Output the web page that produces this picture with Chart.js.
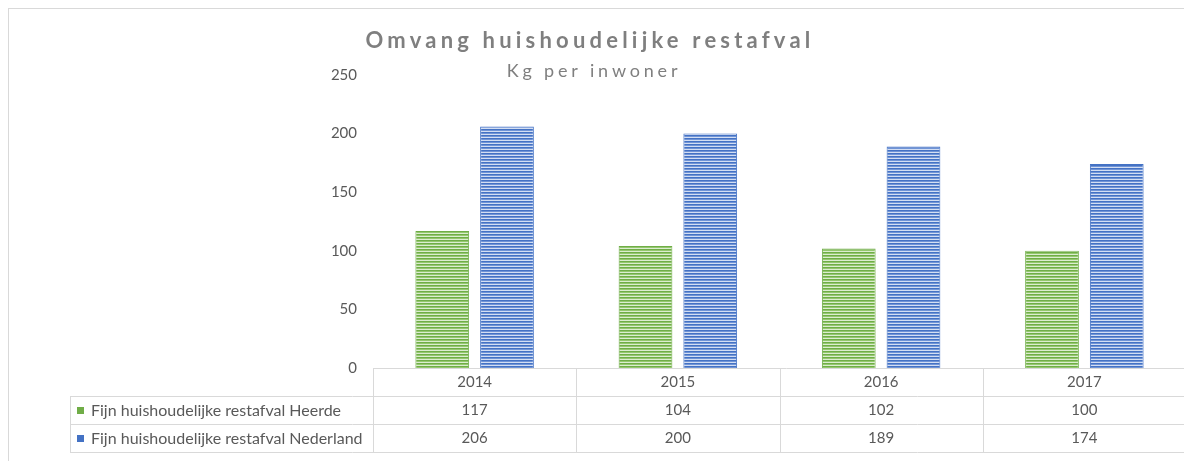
<!DOCTYPE html>
<html>
<head>
<meta charset="utf-8">
<script src="https://cdn.jsdelivr.net/npm/chart.js@4.4.0/dist/chart.umd.min.js"></script>
<style>
  html, body { margin: 0; padding: 0; background: #fff; overflow: hidden; }
  #frame { position: absolute; left: 8px; top: 8px; width: 1300px; height: 520px; border: 1px solid #d9d9d9; }
  #chart { position: absolute; left: 0; top: 0; }
</style>
</head>
<body>
<div id="frame"></div>
<canvas id="chart" width="1200" height="461"></canvas>
<script>
const years = ['2014', '2015', '2016', '2017']
const heerde = [117, 104, 102, 100]
const nederland = [206, 200, 189, 174]
const seriesNames = ['Fijn huishoudelijke restafval Heerde', 'Fijn huishoudelijke restafval Nederland']
const yTicks = [0, 50, 100, 150, 200, 250]

const FONT = 'Lato'
const TEXT = '#595959'
const LINE = '#d9d9d9'

// striped fill like the excel pattern
function stripes(dark, mid, light) {
  const c = document.createElement('canvas')
  c.width = 4
  c.height = 3
  const g = c.getContext('2d')
  g.fillStyle = dark; g.fillRect(0, 0, 4, 1)
  g.fillStyle = mid; g.fillRect(0, 1, 4, 1)
  g.fillStyle = light; g.fillRect(0, 2, 4, 1)
  return g.createPattern(c, 'repeat')
}

const greenFill = stripes('#70ad47', '#94c86e', '#dcedd0')
const blueFill = stripes('#4472c4', '#7094d6', '#d3def3')

// title + data table drawn under the plot
const tablePlugin = {
  id: 'tablePlugin',
  afterDraw(chart) {
    const ctx = chart.ctx
    const area = chart.chartArea
    const x = chart.scales.x
    const n = years.length
    const w = (area.right - area.left) / n
    const rowH = 28
    const y0 = area.bottom
    const tableLeft = 70
    const rows = [heerde, nederland]
    const colors = ['#70ad47', '#4472c4']

    ctx.save()
    ctx.strokeStyle = LINE
    ctx.lineWidth = 1

    // axis line + header row
    ctx.beginPath()
    ctx.moveTo(area.left, y0 + 0.5)
    ctx.lineTo(chart.width, y0 + 0.5)
    for (let r = 1; r <= 3; r++) {
      ctx.moveTo(tableLeft, y0 + r * rowH + 0.5)
      ctx.lineTo(chart.width, y0 + r * rowH + 0.5)
    }
    for (let i = 0; i <= n; i++) {
      const xx = Math.round(area.left + i * w) + 0.5
      ctx.moveTo(xx, y0)
      ctx.lineTo(xx, y0 + 3 * rowH)
    }
    ctx.moveTo(tableLeft + 0.5, y0 + rowH)
    ctx.lineTo(tableLeft + 0.5, y0 + 3 * rowH)
    ctx.stroke()

    ctx.fillStyle = TEXT
    ctx.font = '15px ' + FONT
    ctx.textAlign = 'center'
    ctx.textBaseline = 'middle'
    years.forEach((yr, i) => {
      const cx = x.getPixelForValue(i)
      ctx.fillText(yr, cx, y0 + rowH / 2)
      rows.forEach((vals, r) => {
        ctx.fillText(String(vals[i]), cx, y0 + (r + 1.5) * rowH)
      })
    })

    ctx.textAlign = 'left'
    ctx.font = '16px ' + FONT
    seriesNames.forEach((name, r) => {
      const cy = y0 + (r + 1.5) * rowH
      ctx.fillStyle = colors[r]
      ctx.fillRect(77, cy - 3, 7, 7)
      ctx.fillStyle = TEXT
      ctx.fillText(name, 91, cy + 1)
    })

    // titles
    ctx.textAlign = 'center'
    ctx.fillStyle = '#7f7f7f'
    ctx.font = 'bold 22px ' + FONT
    ctx.letterSpacing = '4.2px'
    ctx.fillText('Omvang huishoudelijke restafval', 590, 41)
    ctx.font = '18px ' + FONT
    ctx.letterSpacing = '3.8px'
    ctx.fillText('Kg per inwoner', 594, 71)
    ctx.restore()
  }
}

new Chart(document.getElementById('chart'), {
  type: 'bar',
  data: {
    labels: years,
    datasets: [
      {
        label: seriesNames[0],
        data: heerde,
        backgroundColor: greenFill,
        borderColor: '#70ad47',
        borderWidth: 1,
        categoryPercentage: 0.637,
        barPercentage: 0.83,
      },
      {
        label: seriesNames[1],
        data: nederland,
        backgroundColor: blueFill,
        borderColor: '#4472c4',
        borderWidth: 1,
        categoryPercentage: 0.637,
        barPercentage: 0.83,
      },
    ],
  },
  options: {
    responsive: false,
    animation: false,
    layout: { padding: { top: 75, right: 14, bottom: 93, left: 0 } },
    plugins: {
      legend: { display: false },
      tooltip: { enabled: false },
    },
    scales: {
      x: { display: false },
      y: {
        min: 0,
        max: 250,
        afterFit(scale) { scale.width = 373 },
        afterBuildTicks(scale) { scale.ticks = yTicks.map((v) => ({ value: v })) },
        grid: { display: false, drawTicks: false },
        border: { display: false },
        ticks: { color: TEXT, font: { family: FONT, size: 15 }, padding: 16 },
      },
    },
  },
  plugins: [tablePlugin],
})
</script>
</body>
</html>
